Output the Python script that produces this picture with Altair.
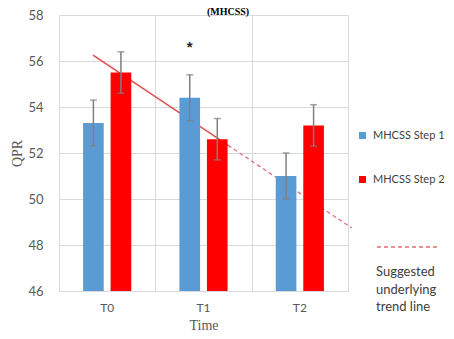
import altair as alt
import pandas as pd

times = ["T0", "T1", "T2"]
series = ["MHCSS Step 1", "MHCSS Step 2"]
step1_mean = [53.3, 54.4, 51.0]
step1_lo = [52.3, 53.4, 50.0]
step1_hi = [54.3, 55.4, 52.0]
step2_mean = [55.5, 52.6, 53.2]
step2_lo = [54.6, 51.7, 52.3]
step2_hi = [56.4, 53.5, 54.1]
star_time = ["T1"]
star_series = ["MHCSS Step 1"]
star_value = [56.6]
star_text = ["*"]
title_text = ["(MHCSS)"]
# suggested trend line (x in category units, 0 = left edge of T0 band)
trend_solid_x = [0.353, 1.754]
trend_solid_y = [56.26, 52.34]
trend_dash_x = [1.754, 3.04]
trend_dash_y = [52.34, 48.74]
colors = ["#5b9bd5", "#ff0000"]

rows = []
for i, t in enumerate(times):
    rows.append(dict(time=t, series=series[0], mean=step1_mean[i], lo=step1_lo[i], hi=step1_hi[i]))
    rows.append(dict(time=t, series=series[1], mean=step2_mean[i], lo=step2_lo[i], hi=step2_hi[i]))
df = pd.DataFrame(rows)
star_df = pd.DataFrame(dict(time=star_time, series=star_series, v=star_value, s=star_text))
solid_df = pd.DataFrame(dict(x=trend_solid_x, y=trend_solid_y))
dash_df = pd.DataFrame(dict(x=trend_dash_x, y=trend_dash_y, k=["trend"] * len(trend_dash_x)))
title_df = pd.DataFrame(dict(t=title_text))

LABEL_FONT = "Lato"
yscale = alt.Scale(domain=[46, 58], nice=False, zero=False)
yaxis = alt.Axis(values=[46, 48, 50, 52, 54, 56, 58], grid=True, gridColor="#d9d9d9",
                 ticks=False, domain=False, labelColor="#595959", labelFontSize=13,
                 labelFont=LABEL_FONT, labelPadding=16, title="QPR",
                 titleFont="Liberation Serif", titleFontSize=14, titleFontWeight="normal",
                 titleColor="#595959", titlePadding=3)
xband = alt.X("time:N", sort=times, scale=alt.Scale(paddingInner=0.5, paddingOuter=0.25),
              axis=alt.Axis(orient="bottom", labelAngle=0, ticks=False, domainColor="#d9d9d9",
                            labelColor="#595959", labelFontSize=12, labelFont=LABEL_FONT,
                            labelPadding=11, title="Time", titleFont="Liberation Serif",
                            titleFontSize=14, titleFontWeight="normal", titleColor="#595959",
                            titlePadding=5, grid=False))
xoff = alt.XOffset("series:N", sort=series, scale=alt.Scale(paddingInner=0.25, paddingOuter=0))

bars = alt.Chart(df).mark_bar().encode(
    x=xband, xOffset=xoff,
    y=alt.Y("mean:Q", scale=yscale, axis=yaxis),
    y2=alt.datum(46),
    color=alt.Color("series:N", sort=series, scale=alt.Scale(domain=series, range=colors),
                    legend=alt.Legend(title=None, orient="none", legendX=298, legendY=115,
                                      symbolType="square", symbolSize=49, symbolStrokeWidth=0,
                                      labelFontSize=11, labelFont=LABEL_FONT,
                                      labelColor="#404040", rowPadding=32, padding=0,
                                      labelOffset=5)),
)
err = alt.Chart(df).mark_rule(color="#7f7f7f", strokeWidth=1.5).encode(
    x=alt.X("time:N", sort=times), xOffset=xoff, y="lo:Q", y2="hi:Q")
cap_lo = alt.Chart(df).mark_tick(color="#7f7f7f", thickness=1.5, size=7, orient="horizontal").encode(
    x=alt.X("time:N", sort=times), xOffset=xoff, y="lo:Q")
cap_hi = alt.Chart(df).mark_tick(color="#7f7f7f", thickness=1.5, size=7, orient="horizontal").encode(
    x=alt.X("time:N", sort=times), xOffset=xoff, y="hi:Q")
star = alt.Chart(star_df).mark_text(fontSize=15, fontWeight="bold", color="#262626", baseline="middle").encode(
    x=alt.X("time:N", sort=times), xOffset=xoff, y="v:Q", text="s:N")

band_layer = alt.layer(bars, err, cap_lo, cap_hi, star)

xq_axis = alt.Axis(values=[0, 1, 2, 3], grid=True, gridColor="#d9d9d9", labels=False, ticks=False,
                   domain=False, title=None, orient="bottom", minExtent=0, maxExtent=0, offset=0)
xq = alt.Scale(domain=[0, 3], nice=False, zero=False)
solid = alt.Chart(solid_df).mark_line(color="#e03a3a", strokeWidth=1.5, opacity=0.9, clip=False).encode(
    x=alt.X("x:Q", scale=xq, axis=xq_axis), y=alt.Y("y:Q", scale=yscale))
dash = alt.Chart(dash_df).mark_line(color="#d9536a", strokeWidth=1.3, opacity=0.85, clip=False).encode(
    x=alt.X("x:Q", scale=xq), y=alt.Y("y:Q", scale=yscale),
    strokeDash=alt.StrokeDash("k:N", scale=alt.Scale(domain=["trend"], range=[[4, 3]]),
                              legend=alt.Legend(title=["Suggested", "underlying", "trend line"],
                                                titleOrient="bottom", orient="none",
                                                legendX=317, legendY=200, symbolType="stroke",
                                                symbolSize=3844, symbolStrokeColor="#e05060",
                                                symbolStrokeWidth=1.5, labelExpr="''",
                                                titleFontSize=13, titleFont=LABEL_FONT,
                                                titleFontWeight="normal", titleColor="#404040",
                                                titleLineHeight=17.5, titlePadding=14, padding=0,
                                                titleAnchor="start")),
)
title_mark = alt.Chart(title_df).mark_text(font="Liberation Serif", fontSize=10, fontWeight="bold",
                                           color="#000000", baseline="alphabetic", align="center",
                                           clip=False).encode(
    x=alt.value(169), y=alt.value(-0.5), text="t:N")
line_layer = alt.layer(solid, dash, title_mark)

chart = alt.layer(line_layer, band_layer).resolve_scale(x="independent").properties(
    width=289, height=276,
    autosize=alt.AutoSizeParams(type="none"),
    padding={"left": 51, "top": 7, "right": 98, "bottom": 40},
).configure_view(stroke=None).configure_axis(gridWidth=1)

chart.save("out.html", embed_options={"renderer": "svg", "actions": False})
